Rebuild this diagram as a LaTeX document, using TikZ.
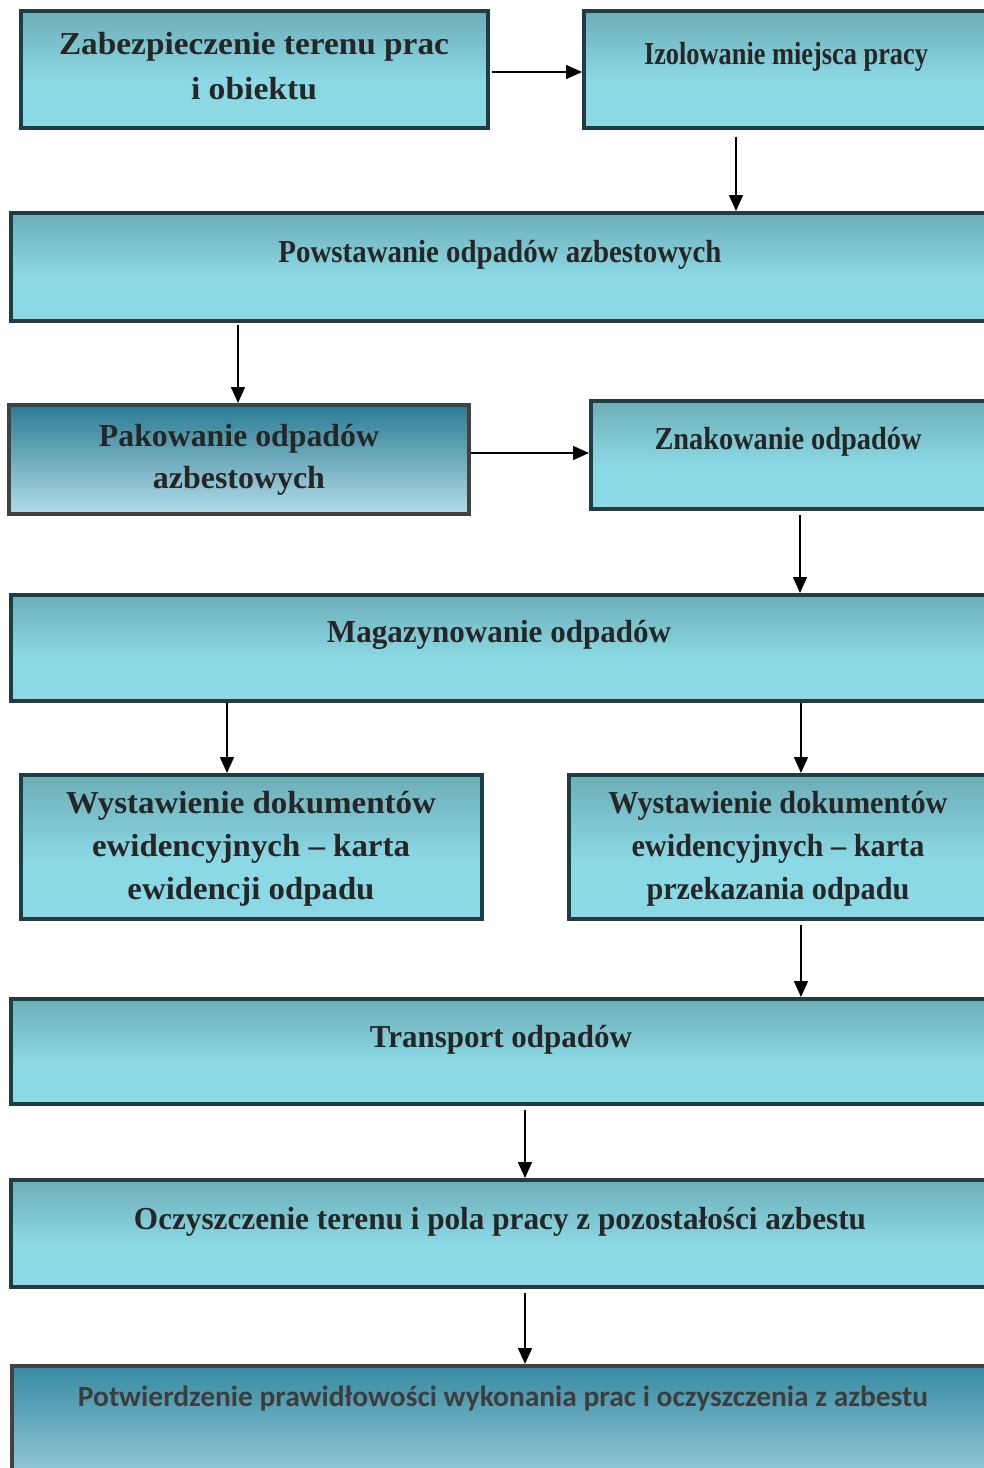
\documentclass[tikz,border=0pt]{standalone}
\usepackage{fontspec}
\setmainfont{Liberation Serif}
\newfontfamily\calibfont{Carlito}
\usetikzlibrary{arrows.meta,shadows,fit}
\definecolor{bt}{HTML}{6DAEB7}
\definecolor{bb}{HTML}{8BD9E5}
\definecolor{bd}{HTML}{213C42}
\definecolor{pt}{HTML}{2A7C93}
\definecolor{pb}{HTML}{B3DCE7}
\definecolor{gt}{HTML}{378BA3}
\definecolor{gb}{HTML}{A9D6E4}
\definecolor{gbd}{HTML}{424242}
\definecolor{txt}{HTML}{262626}
\definecolor{txtb}{HTML}{3D3D3D}
\pgfdeclareverticalshading{lightbox}{100bp}{color(0bp)=(bb); color(25bp)=(bb); color(45bp)=(bb); color(75bp)=(bt); color(100bp)=(bt)}
\pgfdeclareverticalshading{darkbox}{100bp}{color(0bp)=(pb); color(25bp)=(pb); color(75bp)=(pt); color(100bp)=(pt)}
\pgfdeclareverticalshading{lastbox}{100bp}{color(0bp)=(gb); color(25bp)=(gb); color(75bp)=(gt); color(100bp)=(gt)}
\newcommand\fitw[2]{\resizebox{#1pt}{\height}{#2}}
\begin{document}
\begin{tikzpicture}[x=0.75pt,y=-0.75pt,
  box/.style={draw=bd, line width=3pt, shading=lightbox, inner sep=0pt,
    drop shadow={shadow xshift=0.8pt, shadow yshift=-1.2pt, fill=black!30, opacity=1}},
  darkbx/.style={draw=gbd, line width=3pt, shading=darkbox, inner sep=0pt},
  lastbx/.style={draw=gbd, line width=3pt, shading=lastbox, inner sep=0pt},
  lbl/.style={anchor=base, inner sep=0pt, text=txt, align=center,
    font=\fontsize{24}{32}\selectfont\bfseries},
  arr/.style={-{Triangle[length=12pt,width=10.5pt]}, line width=1.15pt, black, shorten <=1.5pt}]
\useasboundingbox (0,0) rectangle (984,1468);
\fill[white] (0,0) rectangle (984,1468);
\clip (0,0) rectangle (984,1468);
% boxes
\node[box, fit={(21,11) (488,128)}] (zab) {};
\node[box, fit={(584,11) (992,128)}] (izol) {};
\node[box, fit={(11,213) (992,321)}] (powst) {};
\node[darkbx, fit={(9,405) (469,514)}] (pak) {};
\node[box, fit={(591,401) (992,509)}] (znak) {};
\node[box, fit={(11,595) (992,701)}] (mag) {};
\node[box, fit={(21,775) (482,919)}] (wl) {};
\node[box, fit={(569,775) (992,919)}] (wr) {};
\node[box, fit={(11,999) (992,1104)}] (trans) {};
\node[box, fit={(11,1180) (992,1287)}] (ocz) {};
\node[lastbx, fit={(12,1366) (992,1500)}] (potw) {};
% texts (multi-line nodes: base = last line's baseline)
\node[lbl, font=\fontsize{24}{33.75}\selectfont\bfseries] (t1) at (254,99) {\fitw{292.5}{Zabezpieczenie terenu prac}\\\fitw{94.5}{i obiektu}};
\node[lbl] (t2) at (786,64) {\fitw{213}{Izolowanie miejsca pracy}};
\node[lbl] (t3) at (500,262) {\fitw{332.25}{Powstawanie odpadów azbestowych}};
\node[lbl, font=\fontsize{24}{31.5}\selectfont\bfseries] (t4) at (239,488) {\fitw{210}{Pakowanie odpadów}\\\fitw{129}{azbestowych}};
\node[lbl] (t5) at (788,449) {\fitw{200.25}{Znakowanie odpadów}};
\node[lbl] (t6) at (499,642) {\fitw{258}{Magazynowanie odpadów}};
\node[lbl] (t7) at (251,899) {\fitw{277.5}{Wystawienie dokumentów}\\\fitw{238.5}{ewidencyjnych – karta}\\\fitw{185.25}{ewidencji odpadu}};
\node[lbl] (t8) at (778,899) {\fitw{254.25}{Wystawienie dokumentów}\\\fitw{219.75}{ewidencyjnych – karta}\\\fitw{197.25}{przekazania odpadu}};
\node[lbl] (t9) at (501,1047) {\fitw{196.5}{Transport odpadów}};
\node[lbl] (t10) at (500,1229) {\fitw{549}{Oczyszczenie terenu i pola pracy z pozostałości azbestu}};
\node[lbl, text=txtb, font=\fontsize{22}{26}\selectfont\calibfont\bfseries] (t11) at (503,1406) {\fitw{637.5}{Potwierdzenie prawidłowości wykonania prac i oczyszczenia z azbestu}};
% connector guides
\coordinate (ay1) at (0,72);
\coordinate (ax1) at (736,0);
\coordinate (ax2) at (238,0);
\coordinate (ay3) at (0,453);
\coordinate (ax4) at (800,0);
\coordinate (ax5) at (227,0);
\coordinate (ax6) at (801,0);
\coordinate (ax7) at (525,0);
% connectors
\draw[arr] (zab.east |- ay1) -- (izol.west |- ay1);
\draw[arr, shorten <=5pt] (izol.south -| ax1) -- (powst.north -| ax1);
\draw[arr] (powst.south -| ax2) -- (pak.north -| ax2);
\draw[arr, shorten <=0pt] (pak.east |- ay3) -- (znak.west |- ay3);
\draw[arr, shorten <=3pt] (znak.south -| ax4) -- (mag.north -| ax4);
\draw[arr, shorten <=0pt] (mag.south -| ax5) -- (wl.north -| ax5);
\draw[arr, shorten <=0pt] (mag.south -| ax6) -- (wr.north -| ax6);
\draw[arr, shorten <=3pt] (wr.south -| ax6) -- (trans.north -| ax6);
\draw[arr, shorten <=3pt] (trans.south -| ax7) -- (ocz.north -| ax7);
\draw[arr, shorten <=3pt] (ocz.south -| ax7) -- (potw.north -| ax7);
\end{tikzpicture}
\end{document}
